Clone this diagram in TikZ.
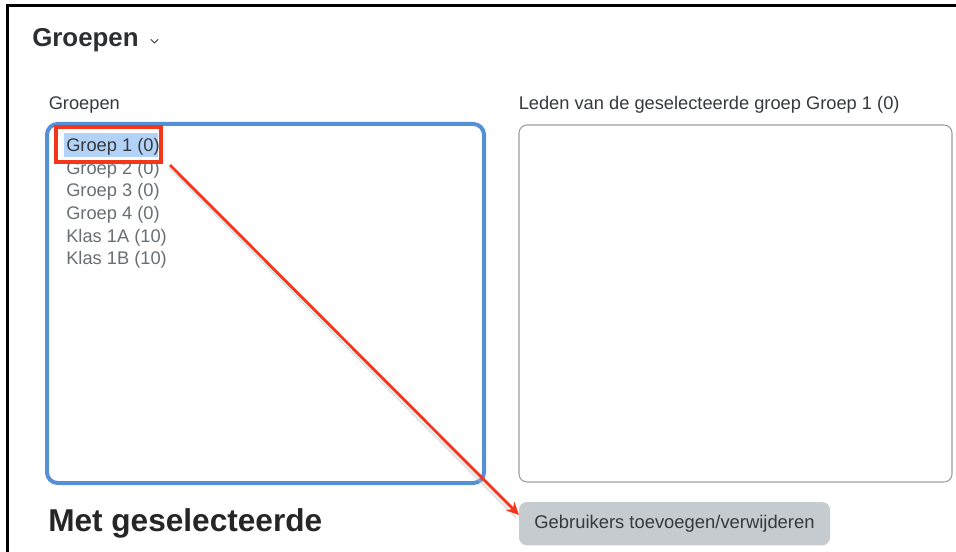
\documentclass[tikz,border=0pt]{standalone}
\usepackage{fontspec}
\setmainfont{Liberation Sans}
\usetikzlibrary{arrows.meta}
\definecolor{txt}{HTML}{373A3C}
\definecolor{itm}{HTML}{6A6F73}
\definecolor{blu}{HTML}{5590D6}
\definecolor{sel}{HTML}{B3D2F8}
\definecolor{redl}{HTML}{F4361C}
\definecolor{btn}{HTML}{C6CBD0}
\definecolor{brd}{HTML}{9A9DA1}
\tikzset{
  x=0.75pt,y=-0.75pt,
  lbl/.style={inner sep=0pt,anchor=base west,text=txt,font=\fontsize{13.7pt}{16pt}\selectfont},
  item/.style={lbl,text=itm},
  listbox/.style={draw=blu,line width=3pt,rounded corners=8pt,inner sep=0pt,outer sep=0pt,anchor=north west,minimum width=327.75pt,minimum height=269.25pt},
  membox/.style={draw=brd,line width=0.8pt,rounded corners=6pt,inner sep=0pt,outer sep=0pt,anchor=north west,minimum width=324.75pt,minimum height=267.75pt},
  redbox/.style={draw=redl,line width=2.8pt,inner sep=0pt,outer sep=0pt,anchor=north west,minimum width=78.75pt,minimum height=26.25pt},
  actionbtn/.style={fill=btn,rounded corners=6pt,inner sep=0pt,outer sep=0pt,anchor=north west,minimum width=233.25pt,minimum height=32.5pt,text=txt,font=\fontsize{13.8pt}{16pt}\selectfont},
  redarrow/.style={draw=redl,line width=2.1pt,-{Stealth[length=9.5pt,width=9pt]}},
  shadowline/.style={draw=black!25,line width=1.5pt,opacity=.45}
}
\begin{document}
\begin{tikzpicture}
\useasboundingbox (0,0) rectangle (956,552);
\fill[white] (0,0) rectangle (956,552);
\draw[black,line width=1.6pt] (7.5,552) -- (7.5,5.5) -- (956,5.5);
\node[lbl,text=txt!80!black,font=\fontsize{19.4pt}{22pt}\selectfont\bfseries] (title) at (32,47) {Groepen};
\draw[txt,line width=0.7pt,line cap=round,line join=round] (151,39.5) -- (154.5,43) -- (158,39.5);
\node[lbl] (grp) at (48.5,109.5) {Groepen};
\node[lbl] (leden) at (518.5,109.5) {Leden van de geselecteerde groep Groep 1 (0)};
\node[listbox] (list) at (47,124) {};
\node[membox] (mem) at (519,125) {};
\fill[sel] (64,133.5) rectangle (158,157);
\node[lbl] (g1) at (66,151.5) {Groep 1 (0)};
\node[item] (g2) at (66,174.5) {Groep 2 (0)};
\node[item] (g3) at (66,197) {Groep 3 (0)};
\node[item] (g4) at (66,219.5) {Groep 4 (0)};
\node[item] (k1) at (66,242.5) {Klas 1A (10)};
\node[item] (k2) at (66,265) {Klas 1B (10)};
\node[lbl,text=black!85,font=\fontsize{23.7pt}{26pt}\selectfont\bfseries] (met) at (48,531) {Met geselecteerde};
\node[actionbtn] (act) at (519,502) {Gebruikers toevoegen/verwijderen};
\node[redbox] (red) at (56,127) {};
\coordinate (from) at (170,165);
\coordinate (to) at (519,515);
\draw[shadowline] (169,167.5) -- (516,517.5);
\draw[redarrow] (from) -- (to);
\end{tikzpicture}
\end{document}
